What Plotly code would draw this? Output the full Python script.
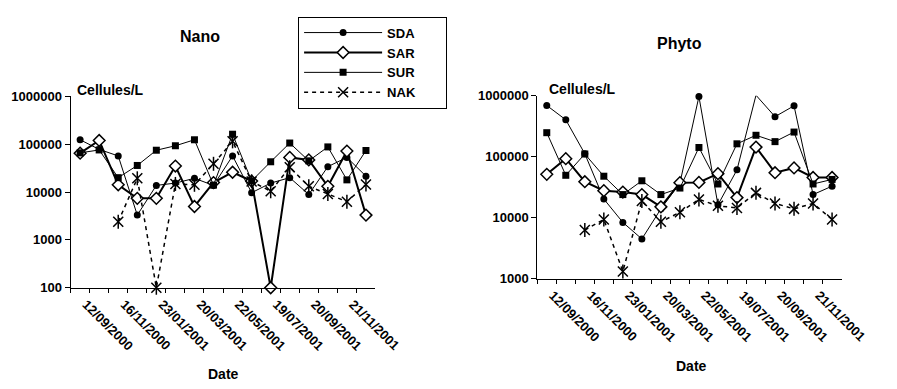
import math
import plotly.graph_objects as go

# ---- data -------------------------------------------------------------
CATEGORIES = [f"c{i}" for i in range(16)]  # 16 sampling campaigns
DATE_LABELS = ["12/09/2000", "16/11/2000", "23/01/2001", "20/03/2001",
               "22/05/2001", "19/07/2001", "20/09/2001", "21/11/2001"]
SERIES = ["SDA", "SAR", "SUR", "NAK"]

NANO_SDA = [124000, 78000, 57000, 3300, 13800, 15400, 19400, 13800, 57000, 9700, 15400, 20000, 8900, 34000, 53000, 21500]
NANO_SAR = [65000, 120000, 14200, 7400, 7400, 35000, 5000, 15800, 26000, 17000, 100, 53000, 47000, 13200, 72000, 3300]
NANO_SUR = [66000, 76000, 20000, 36000, 75000, 93000, 124000, 14000, 162000, 17100, 43000, 106000, 45000, 88000, 18000, 74000]
NANO_NAK = [None, None, 2400, 19400, 100, 14800, 14200, 39000, 115000, 16700, 10400, 33000, 13200, 9100, 6300, 14400]

PHYTO_SDA = [693000, 403000, 112000, 20300, 8400, 4500, 14000, 37000, 970000, 16300, 61000, 1020000, 454000, 684000, 24000, 33000]
PHYTO_SAR = [51500, 93000, 39000, 27800, 26400, 24000, 15100, 37600, 38000, 52800, 21400, 144000, 54800, 65600, 45700, 45700]
PHYTO_SUR = [248000, 49700, 111000, 48000, 24000, 40400, 24000, 30700, 142000, 35800, 163000, 225000, 177000, 254000, 35800, 42500]
PHYTO_NAK = [None, None, 6300, 9400, 1320, 18900, 8600, 12300, 20000, 15700, 14500, 25600, 17200, 14000, 17200, 9400]

NANO_TICKS = [100, 1000, 10000, 100000, 1000000]
PHYTO_TICKS = [1000, 10000, 100000, 1000000]

TITLES = ["Nano", "Phyto"]
UNIT = "Cellules/L"
XTITLE = "Date"

# ---- styling ----------------------------------------------------------
FONT = "Liberation Sans, Arial, sans-serif"
TICK_TEXT = []
for i in range(len(CATEGORIES)):
    TICK_TEXT.append(DATE_LABELS[i // 2] if i % 2 == 0 else "")
PAD = "\u00a0" * 7  # widens the legend box like the original

STYLE = {
    "SDA": dict(line=dict(color="black", width=1),
                marker=dict(symbol="circle", size=7, color="black")),
    "SAR": dict(line=dict(color="black", width=2),
                marker=dict(symbol="diamond", size=9, color="white",
                            line=dict(color="black", width=1.5))),
    "SUR": dict(line=dict(color="black", width=1),
                marker=dict(symbol="square", size=7, color="black")),
    "NAK": dict(line=dict(color="black", width=1.5, dash="4px,4px"),
                marker=dict(symbol="x-thin-open", size=10, color="black",
                            line=dict(color="black", width=1.5))),
}

fig = go.Figure()

panels = [
    ("x", "y", [NANO_SDA, NANO_SAR, NANO_SUR, NANO_NAK], True),
    ("x2", "y2", [PHYTO_SDA, PHYTO_SAR, PHYTO_SUR, PHYTO_NAK], False),
]
for xa, ya, data, show in panels:
    for name, vals in zip(SERIES, data):
        st = STYLE[name]
        fig.add_trace(go.Scatter(
            x=CATEGORIES, y=vals, name=name + PAD, mode="lines+markers",
            line=st["line"], marker=st["marker"], xaxis=xa, yaxis=ya,
            showlegend=show, cliponaxis=False, legendgroup=name))
        if name == "NAK":
            fig.add_trace(go.Scatter(
                x=CATEGORIES, y=vals, mode="markers", showlegend=False,
                marker=dict(symbol="line-ns-open", size=10, color="black",
                            line=dict(color="black", width=1.5)),
                xaxis=xa, yaxis=ya, cliponaxis=False, hoverinfo="skip"))


def xaxis_cfg(domain, anchor):
    return dict(domain=domain, anchor=anchor, type="category",
                range=[-0.5, len(CATEGORIES) - 0.5],
                tickmode="array", tickvals=CATEGORIES, ticktext=TICK_TEXT,
                tickson="boundaries", ticks="outside", ticklen=4,
                tickcolor="black", showline=True, linecolor="black",
                linewidth=1, showgrid=False, zeroline=False, tickangle=45,
                ticklabelshift=6, ticklabelstandoff=3,
                tickfont=dict(family=FONT, size=13, color="black",
                              weight="bold"))


def yaxis_cfg(domain, anchor, ticks):
    return dict(domain=domain, anchor=anchor, type="log",
                range=[math.log10(ticks[0]), math.log10(ticks[-1])],
                tickmode="array", tickvals=ticks,
                ticktext=[str(t) for t in ticks],
                ticks="outside", ticklen=5, tickcolor="black",
                showline=True, linecolor="black", linewidth=1,
                showgrid=False, zeroline=False,
                tickfont=dict(family=FONT, size=13, color="black",
                              weight="bold"))


W, H = 897, 389
fig.update_layout(
    width=W, height=H, margin=dict(l=0, r=0, t=0, b=0),
    paper_bgcolor="white", plot_bgcolor="white",
    font=dict(family=FONT, color="black"),
    xaxis=xaxis_cfg([72.7 / W, 386.7 / W], "y"),
    yaxis=yaxis_cfg([1 - 292 / H, 1 - 93 / H], "x", NANO_TICKS),
    xaxis2=xaxis_cfg([553.3 / W, 866.7 / W], "y2"),
    yaxis2=yaxis_cfg([1 - 282.7 / H, 1 - 92.3 / H], "x2", PHYTO_TICKS),
    legend=dict(x=307 / W, y=1 - 10 / H, xanchor="left", yanchor="top",
                bordercolor="black", borderwidth=1, bgcolor="white",
                font=dict(family=FONT, size=13, color="black", weight="bold"),
                itemwidth=78, tracegroupgap=0),
    showlegend=True,
)

ann = [
    (TITLES[0], 206, 31, "center", 16),
    (TITLES[1], 700, 38, "center", 16),
    (UNIT, 77, 86.5, "left", 14),
    (UNIT, 563, 85.7, "left", 14),
    (XTITLE, 230, 382, "center", 14),
    (XTITLE, 712, 373, "center", 14),
]
for text, px, py, anchor, size in ann:
    fig.add_annotation(text=text, xref="paper", yref="paper",
                       x=px / W, y=1 - py / H, xanchor=anchor,
                       yanchor="middle", showarrow=False,
                       font=dict(family=FONT, size=size, color="black",
                                 weight="bold"))

fig.write_html("out.html")
